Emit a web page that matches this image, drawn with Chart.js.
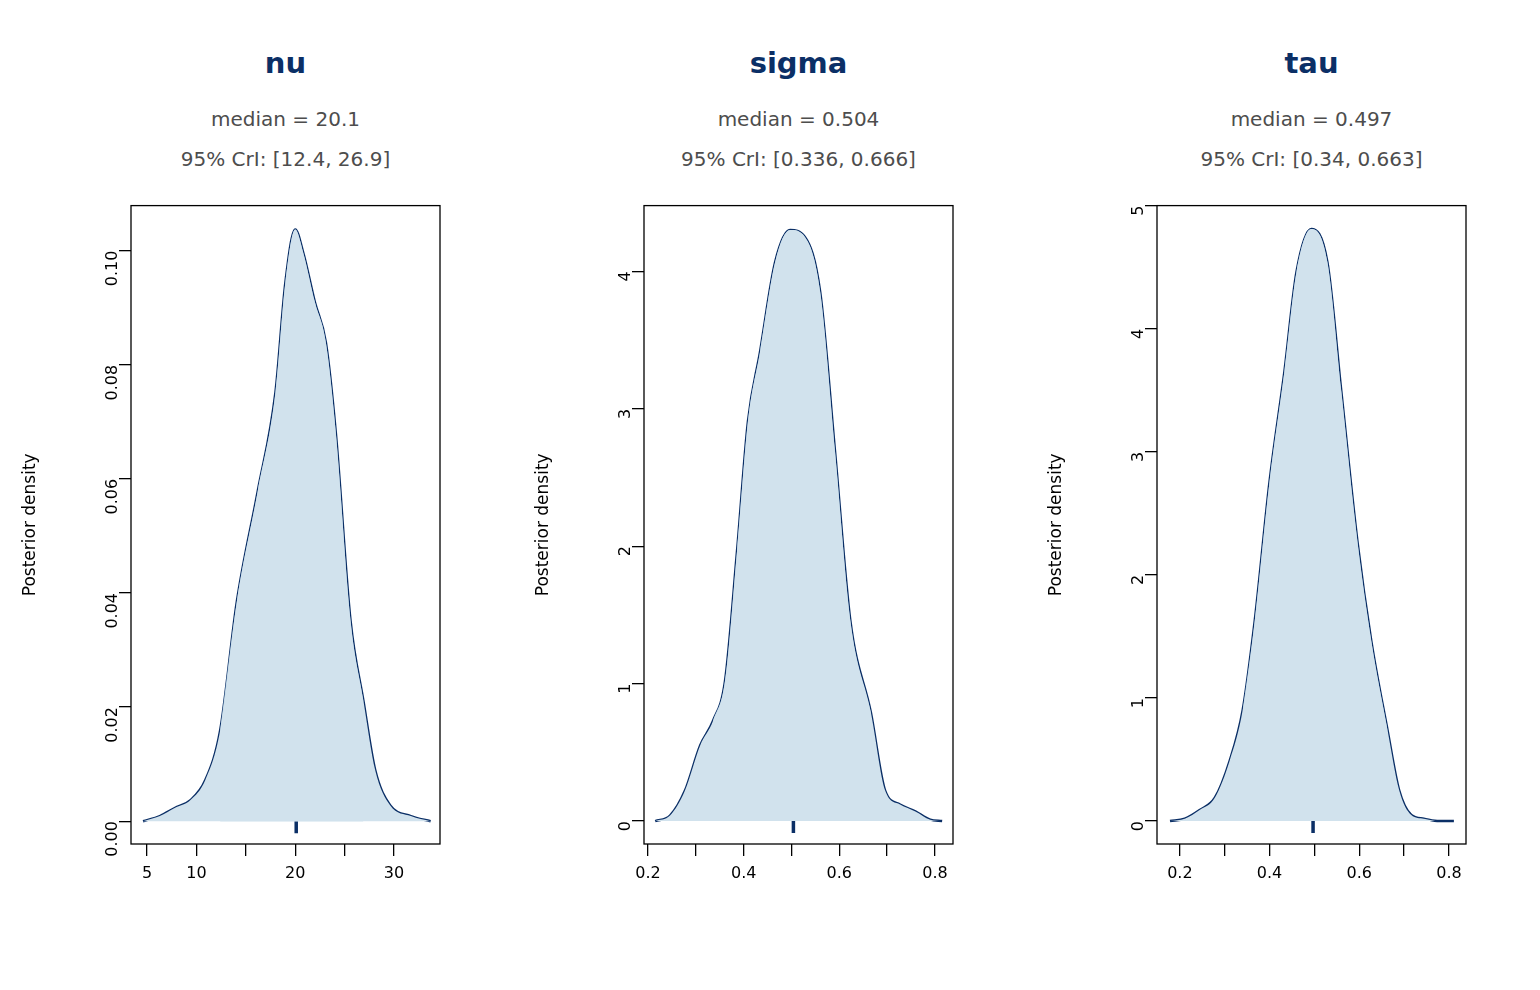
<!DOCTYPE html>
<html><head><meta charset="utf-8">
<script src="https://cdn.jsdelivr.net/npm/chart.js@4"></script>
<style>
body{margin:0;width:1540px;height:990px;background:#fff;position:relative;font-family:"DejaVu Sans",sans-serif;overflow:hidden}
.t{position:absolute;text-align:center;width:400px}
.h{font-weight:bold;font-size:29px;color:#0b2f66}
.s{font-size:20px;color:#4d4d4d}
canvas{position:absolute}
</style></head><body>
<script>
// ---- data ----
const panelNames = ["nu","sigma","tau"];
const medians = [20.1, 0.504, 0.497];
const criLow = [12.4, 0.336, 0.34];
const criHigh = [26.9, 0.666, 0.663];
const medianText = ["median = 20.1","median = 0.504","median = 0.497"];
const criText = ["95% CrI: [12.4, 26.9]","95% CrI: [0.336, 0.666]","95% CrI: [0.34, 0.663]"];
const nuX = [4.6,6.3,7.8,9.4,10.9,12.4,14.1,16.2,18.0,19.0,20.0,20.8,22.0,23.1,24.1,25.6,26.9,28.1,29.6,31.7,33.7];
const nuY = [0,0.0009,0.0023,0.0037,0.0072,0.0159,0.0386,0.0578,0.0752,0.0944,0.1037,0.0997,0.0909,0.0839,0.0682,0.0351,0.0211,0.0089,0.0028,0.0009,0];
const sigmaX = [0.215,0.246,0.277,0.309,0.336,0.361,0.386,0.409,0.434,0.466,0.497,0.528,0.560,0.591,0.623,0.666,0.696,0.727,0.759,0.790,0.815];
const sigmaY = [0,0.04,0.22,0.55,0.73,1.02,1.96,2.91,3.41,4.07,4.30,4.25,3.85,2.69,1.46,0.79,0.22,0.12,0.07,0.01,0];
const tauX = [0.178,0.211,0.244,0.278,0.311,0.340,0.367,0.400,0.433,0.460,0.493,0.529,0.560,0.596,0.627,0.663,0.689,0.716,0.744,0.778,0.811];
const tauY = [0,0.02,0.09,0.19,0.49,0.90,1.63,2.76,3.65,4.46,4.81,4.54,3.49,2.27,1.46,0.74,0.25,0.05,0.02,0,0];
const xTicks = [[5,10,15,20,25,30],[0.2,0.3,0.4,0.5,0.6,0.7,0.8],[0.2,0.3,0.4,0.5,0.6,0.7,0.8]];
const xLabeled = [[5,10,20,30],[0.2,0.4,0.6,0.8],[0.2,0.4,0.6,0.8]];
const yTicks = [[0,0.02,0.04,0.06,0.08,0.10],[0,1,2,3,4],[0,1,2,3,4,5]];
const yLabels = [["0.00","0.02","0.04","0.06","0.08","0.10"],["0","1","2","3","4"],["0","1","2","3","4","5"]];

const xs=[nuX,sigmaX,tauX], ys=[nuY,sigmaY,tauY];
const xRange=[[3.38,34.65],[0.1916,0.8377],[0.149,0.838]];
const yRange=[[-0.004,0.1079],[-0.167,4.478],[-0.186,5]];
const medTick=[-0.0021,-0.087,-0.097];
const boxLeft=[131,644,1157], boxW=309;
const NAVY='#0b2f66';

const boxPlugin={id:'box',afterDraw(c){const a=c.chartArea,x=c.ctx;x.save();x.strokeStyle='#000';x.lineWidth=1.3;x.strokeRect(a.left,a.top,a.right-a.left,a.bottom-a.top);x.restore();}};

for(let i=0;i<3;i++){
  const cx=boxLeft[i]+boxW/2;
  const mk=(cls,txt,top)=>{const d=document.createElement('div');d.className='t '+cls;d.textContent=txt;d.style.left=(cx-200)+'px';d.style.top=top+'px';document.body.appendChild(d);};
  mk('h',panelNames[i],46); mk('s',medianText[i],107); mk('s',criText[i],147);
  const cv=document.createElement('canvas');
  const L=115,T=13,B=80,R=20;
  cv.style.left=(boxLeft[i]-L)+'px'; cv.style.top=(203-T)+'px';
  cv.width=L+boxW+R; cv.height=T+641+B;
  cv.style.width=cv.width+'px'; cv.style.height=cv.height+'px';
  document.body.appendChild(cv);
  const pts=xs[i].map((v,k)=>({x:v,y:ys[i][k]}));
  const inner=pts.filter(p=>p.x>=criLow[i]&&p.x<=criHigh[i]);
  const xt=xTicks[i], lab=xLabeled[i], yt=yTicks[i], yl=yLabels[i];
  new Chart(cv,{type:'line',
    data:{datasets:[
      {data:pts,fill:'origin',backgroundColor:'#d1e2ed',borderWidth:0,pointRadius:0,cubicInterpolationMode:'monotone'},
      {data:inner,fill:'origin',backgroundColor:'#b2cde0',borderWidth:0,pointRadius:0,cubicInterpolationMode:'monotone'},
      {data:pts,fill:false,borderColor:NAVY,borderWidth:2.5,pointRadius:0,cubicInterpolationMode:'monotone'},
      {data:[{x:medians[i],y:0},{x:medians[i],y:medTick[i]}],fill:false,borderColor:NAVY,borderWidth:3.5,pointRadius:0,clip:false}
    ]},
    options:{responsive:false,animation:false,devicePixelRatio:1,
      layout:{padding:{top:T,right:R,left:0,bottom:0}},
      plugins:{legend:{display:false},tooltip:{enabled:false}},
      scales:{
        x:{type:'linear',min:xRange[i][0],max:xRange[i][1],
          afterBuildTicks:s=>{s.ticks=xt.map(v=>({value:v}));},
          afterFit:s=>{s.height=B;},
          grid:{drawOnChartArea:false,tickLength:12,color:'#000',lineWidth:1.3},
          border:{display:false},
          ticks:{autoSkip:false,maxRotation:0,padding:8,color:'#000',font:{family:'DejaVu Sans',size:16},
            callback:v=>lab.some(l=>Math.abs(l-v)<1e-9)?String(v):''}},
        y:{type:'linear',min:yRange[i][0],max:yRange[i][1],
          afterBuildTicks:s=>{s.ticks=yt.map(v=>({value:v}));},
          afterFit:s=>{s.width=L;},
          grid:{drawOnChartArea:false,tickLength:12,color:'#000',lineWidth:1.3},
          border:{display:false},
          title:{display:true,text:'Posterior density',color:'#000',font:{family:'DejaVu Sans',size:17},padding:{bottom:14}},
          ticks:{autoSkip:false,minRotation:90,maxRotation:90,padding:6,color:'#000',font:{family:'DejaVu Sans',size:16},
            callback:(v)=>{const k=yt.findIndex(t=>Math.abs(t-v)<1e-9);return k>=0?yl[k]:'';}}}
      }},
    plugins:[boxPlugin]});
}
</script>
</body></html>
